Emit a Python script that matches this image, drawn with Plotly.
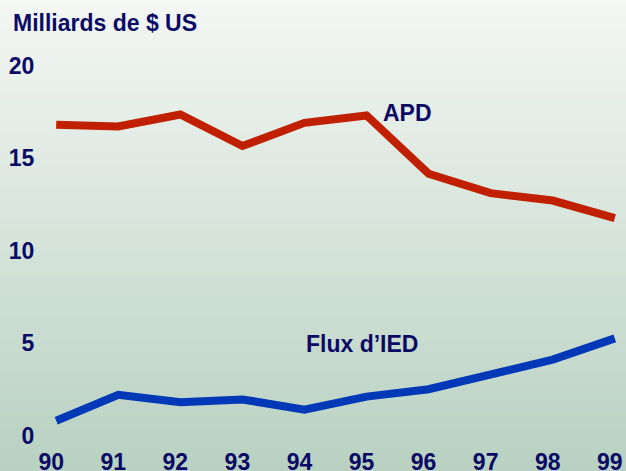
import plotly.graph_objects as go

# ---- data ----
years = [90, 91, 92, 93, 94, 95, 96, 97, 98, 99]
year_labels = ["90", "91", "92", "93", "94", "95", "96", "97", "98", "99"]
apd = [16.8, 16.7, 17.35, 15.65, 16.9, 17.3, 14.15, 13.1, 12.7, 11.75]
ied = [0.8, 2.2, 1.8, 1.95, 1.4, 2.1, 2.5, 3.35, 4.1, 5.25]
y_ticks = [0, 5, 10, 15, 20]
title_text = "Milliards de $ US"
apd_name = "APD"
ied_name = "Flux d’IED"

W, H = 626, 471
ML, MR, MT, MB = 50, 5, 51, 31
NAVY = "#0a0a64"
RED = "#c02000"
BLUE = "#0038b8"
FONT = dict(family="Liberation Sans, Arial, sans-serif", size=23, color=NAVY, weight="bold")

y0px, ppu = 435.5, 18.5
y_top = (y0px - MT) / ppu
y_bot = (y0px - (H - MB)) / ppu
x_range = [89.9, 99.1]
ppx = (W - ML - MR) / (x_range[1] - x_range[0])
shift = 5.0 / ppx

fig = go.Figure()
fig.add_trace(go.Scatter(x=years, y=apd, mode="lines", name=apd_name,
                         line=dict(color=RED, width=8), showlegend=False, hoverinfo="skip"))
fig.add_trace(go.Scatter(x=years, y=ied, mode="lines", name=ied_name,
                         line=dict(color=BLUE, width=8), showlegend=False, hoverinfo="skip"))
# invisible trace to carry the label axis
fig.add_trace(go.Scatter(x=years, y=[None] * len(years), xaxis="x2", mode="markers",
                         showlegend=False, hoverinfo="skip", marker=dict(opacity=0)))

# background gradient strips
top = (0xf4, 0xf7, 0xf4)
bot = (0xb8, 0xd1, 0xc1)
n = 80
pw = W - ML - MR
ph = H - MT - MB
for i in range(n):
    t = (i + 0.5) / n
    c = tuple(round(top[k] + (bot[k] - top[k]) * t) for k in range(3))
    py0 = H * i / n
    py1 = H * (i + 1) / n + 1
    fig.add_shape(type="rect", xref="paper", yref="paper", layer="below",
                  x0=-ML / pw - 0.01, x1=1 + MR / pw + 0.01,
                  y0=1 + (MT - py1) / ph, y1=1 + (MT - py0) / ph,
                  line=dict(width=0), fillcolor="rgb(%d,%d,%d)" % c)

fig.add_annotation(x=95.66, y=17.42, text=apd_name, showarrow=False,
                   font=FONT, xanchor="center", yanchor="middle")
fig.add_annotation(x=94.93, y=4.92, text=ied_name, showarrow=False,
                   font=FONT, xanchor="center", yanchor="middle")

fig.update_layout(
    width=W, height=H,
    margin=dict(l=ML, r=MR, t=MT, b=MB, pad=0, autoexpand=False),
    paper_bgcolor="#e4ece6", plot_bgcolor="rgba(0,0,0,0)",
    title=dict(text=title_text, x=13 / W, xanchor="left", xref="container",
               y=1 - 23 / H, yanchor="middle", yref="container", font=FONT,
               automargin=False),
    xaxis=dict(range=x_range, showgrid=False, zeroline=False, showticklabels=False,
               showline=False, ticks="", automargin=False),
    xaxis2=dict(range=[x_range[0] + shift, x_range[1] + shift], overlaying="x", anchor="y",
                side="bottom", showgrid=False, zeroline=False, showline=False,
                tickmode="array", tickvals=years, ticktext=year_labels, automargin=False,
                ticks="outside", ticklen=1, tickcolor="rgba(0,0,0,0)", tickfont=FONT),
    yaxis=dict(range=[y_bot, y_top], showgrid=False, zeroline=False, showline=False,
               tickmode="array", tickvals=y_ticks, ticktext=[str(v) for v in y_ticks],
               automargin=False,
               ticks="outside", ticklen=10, tickcolor="rgba(0,0,0,0)", tickfont=FONT),
    showlegend=False,
)

fig.write_html("out.html", config={"displayModeBar": False},
               post_script="document.body.style.margin='0';document.body.style.overflow='hidden';")
